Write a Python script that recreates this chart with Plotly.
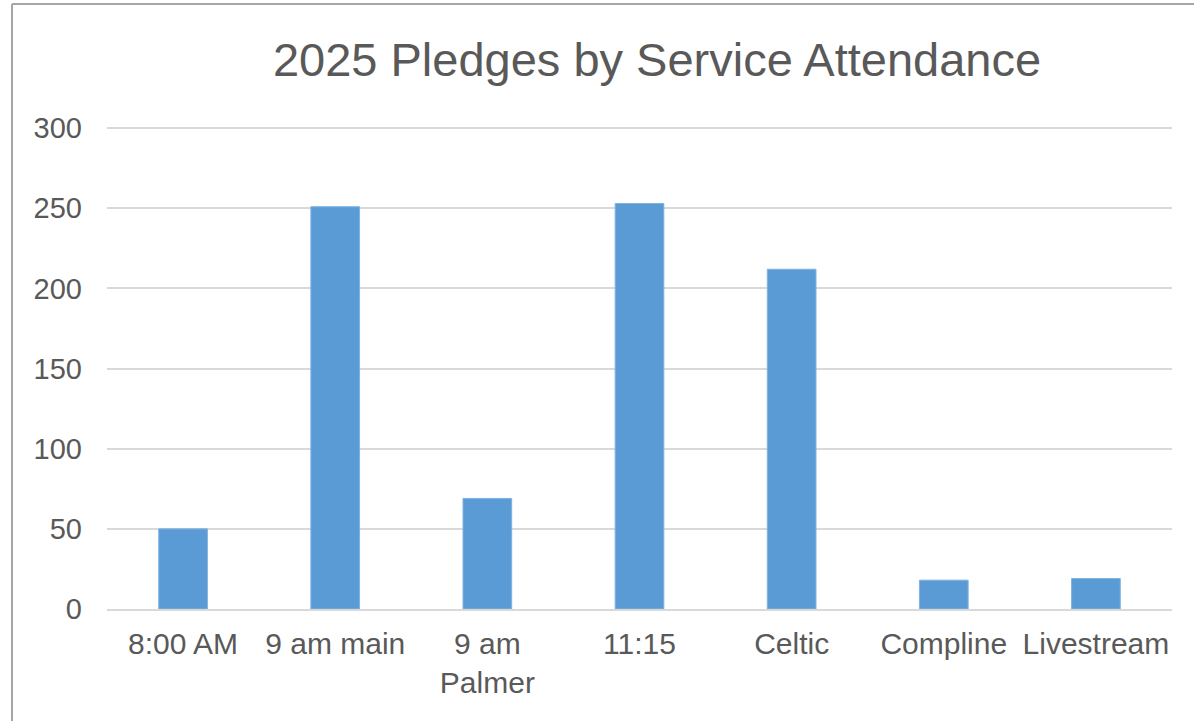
import plotly.graph_objects as go

categories = ["8:00 AM", "9 am main", "9 am<br>Palmer", "11:15", "Celtic", "Compline", "Livestream"]
pledges = [50, 251, 69, 253, 212, 18, 19]
y_ticks = [0, 50, 100, 150, 200, 250, 300]
y_max = 302

W, H = 1194, 721
px_per_unit = (609 - 128) / 300
L, R, B = 107, 22, 112
T = round(609 - px_per_unit * y_max)
pw, ph = W - L - R, H - T - B

fig = go.Figure(go.Bar(
    x=categories, y=pledges,
    marker=dict(color="#5B9BD5", line=dict(color="#7FB2E0", width=1)),
    width=0.32,
))

font = "Liberation Sans, Arial, Helvetica, sans-serif"
fig.update_layout(
    width=W, height=H,
    margin=dict(l=L, r=R, t=T, b=B),
    paper_bgcolor="white", plot_bgcolor="white",
    showlegend=False,
    title=dict(text="2025 Pledges by Service Attendance", x=(657 - L) / pw, xref="paper",
               xanchor="center", y=1 - 60 / H, yanchor="middle",
               font=dict(family=font, size=47, color="#595959")),
    font=dict(family=font, color="#595959"),
)
fig.update_xaxes(
    type="category", showgrid=False, showline=True, linecolor="#D9D9D9", linewidth=2,
    tickfont=dict(size=30, color="#595959"), ticks="", ticklabelstandoff=7,
    range=[-0.5, len(categories) - 0.5],
)
fig.update_yaxes(
    range=[0, y_max], tickvals=y_ticks, showgrid=True, gridcolor="#D9D9D9", gridwidth=1.5,
    zeroline=False, showline=False, ticks="",
    tickfont=dict(size=29, color="#595959"), ticklabelstandoff=24,
)

# outer frame of the screenshot
fig.add_shape(type="line", xref="paper", yref="paper",
              x0=(12 - L) / pw, x1=(12 - L) / pw, y0=(H - T - 725) / ph, y1=(H - B - 4) / ph,
              line=dict(color="#A6A6A6", width=2))
fig.add_shape(type="line", xref="paper", yref="paper",
              x0=(12 - L) / pw, x1=(1200 - L) / pw, y0=(609 - 4) / ph, y1=(609 - 4) / ph,
              line=dict(color="#A6A6A6", width=2))

fig.write_html("out.html", config={"displayModeBar": False},
               post_script="document.body.style.margin='0';")
